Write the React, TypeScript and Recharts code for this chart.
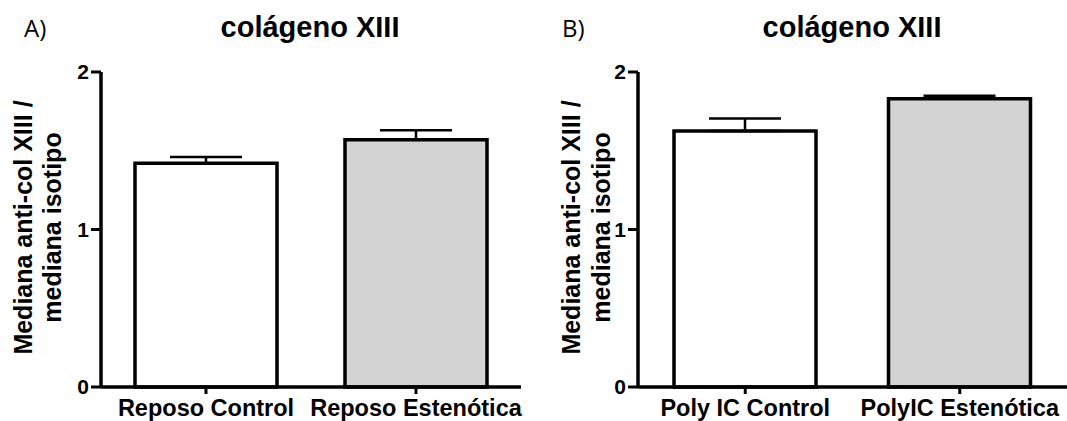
import { Bar, BarChart, Cell, ErrorBar, XAxis, YAxis } from "recharts";

// panel A: reposo
const reposoGroups = ["Reposo Control", "Reposo Estenótica"];
const reposoMeans = [1.42, 1.57];
const reposoSem = [0.04, 0.06];

// panel B: poly IC
const polyGroups = ["Poly IC Control", "PolyIC Estenótica"];
const polyMeans = [1.625, 1.83];
const polySem = [0.08, 0.02];

const yTicks = [0, 1, 2];
const title = "colágeno XIII";
const yLabelLines = ["Mediana anti-col XIII /", "mediana isotipo"];
const barFills = ["#ffffff", "#d3d3d3"];

const font = "'Liberation Sans', Arial, sans-serif";
const ink = "#000";

type YTitleProps = {
  viewBox?: { x: number; y: number; width: number; height: number };
  offsets: number[];
};

const YTitle = ({ viewBox, offsets }: YTitleProps) => {
  if (!viewBox) return null;
  const axisX = viewBox.x + viewBox.width;
  const cy = viewBox.y + viewBox.height / 2 - 2;
  return (
    <g>
      {yLabelLines.map((line, i) => (
        <text
          key={line}
          transform={`translate(${axisX + offsets[i]},${cy}) rotate(-90)`}
          textAnchor="middle"
          fontFamily={font}
          fontWeight="bold"
          fontSize={25}
          fill={ink}
        >
          {line}
        </text>
      ))}
    </g>
  );
};

type PanelProps = {
  groups: string[];
  means: number[];
  sem: number[];
  width: number;
  axisWidth: number;
  right: number;
  labelOffsets: number[];
};

const Panel = ({ groups, means, sem, width, axisWidth, right, labelOffsets }: PanelProps) => {
  const data = groups.map((name, i) => ({
    name,
    value: means[i],
    err: [0, sem[i]],
  }));

  return (
    <BarChart
      width={width}
      height={421}
      data={data}
      margin={{ top: 72, right, bottom: 0, left: 0 }}
    >
      <XAxis
        dataKey="name"
        height={34}
        interval={0}
        tickSize={7}
        tickMargin={5}
        axisLine={{ stroke: ink, strokeWidth: 3.5 }}
        tickLine={{ stroke: ink, strokeWidth: 3 }}
        tick={{ fill: ink, fontSize: 23.5, fontWeight: "bold", fontFamily: font }}
      />
      <YAxis
        width={axisWidth}
        domain={[0, 2]}
        ticks={yTicks}
        tickSize={10}
        tickMargin={2}
        axisLine={{ stroke: ink, strokeWidth: 3.5 }}
        tickLine={{ stroke: ink, strokeWidth: 3 }}
        tick={{ fill: ink, fontSize: 21, fontWeight: "bold", fontFamily: font }}
        label={{ content: (props: any) => <YTitle {...props} offsets={labelOffsets} /> }}
      />
      <Bar dataKey="value" barSize={142} stroke={ink} strokeWidth={3.5} isAnimationActive={false}>
        {data.map((_, i) => (
          <Cell key={i} fill={barFills[i % barFills.length]} />
        ))}
        <ErrorBar dataKey="err" width={36} stroke={ink} strokeWidth={2.5} isAnimationActive={false} />
      </Bar>
    </BarChart>
  );
};

export default function App() {
  return (
    <div style={{ position: "absolute", left: 0, top: 0, width: 1067, height: 421, background: "#fff" }}>
      <div style={{ position: "absolute", left: 0, top: 0 }}>
        <Panel
          groups={reposoGroups}
          means={reposoMeans}
          sem={reposoSem}
          width={530}
          axisWidth={101}
          right={9}
          labelOffsets={[-69, -40]}
        />
      </div>
      <div style={{ position: "absolute", left: 530, top: 0 }}>
        <Panel
          groups={polyGroups}
          means={polyMeans}
          sem={polySem}
          width={537}
          axisWidth={108}
          right={0}
          labelOffsets={[-58, -28]}
        />
      </div>
      <svg
        width={1067}
        height={421}
        style={{ position: "absolute", left: 0, top: 0, pointerEvents: "none" }}
      >
        <text x={24} y={37} fontFamily="'Open Sans', sans-serif" fontSize={24} fill={ink}>
          A)
        </text>
        <text x={562} y={37} fontFamily="'Open Sans', sans-serif" fontSize={24} fill={ink}>
          B)
        </text>
        <text x={310} y={37} textAnchor="middle" fontFamily={font} fontWeight="bold" fontSize={29} fill={ink}>
          {title}
        </text>
        <text x={852} y={37} textAnchor="middle" fontFamily={font} fontWeight="bold" fontSize={29} fill={ink}>
          {title}
        </text>
      </svg>
    </div>
  );
}
